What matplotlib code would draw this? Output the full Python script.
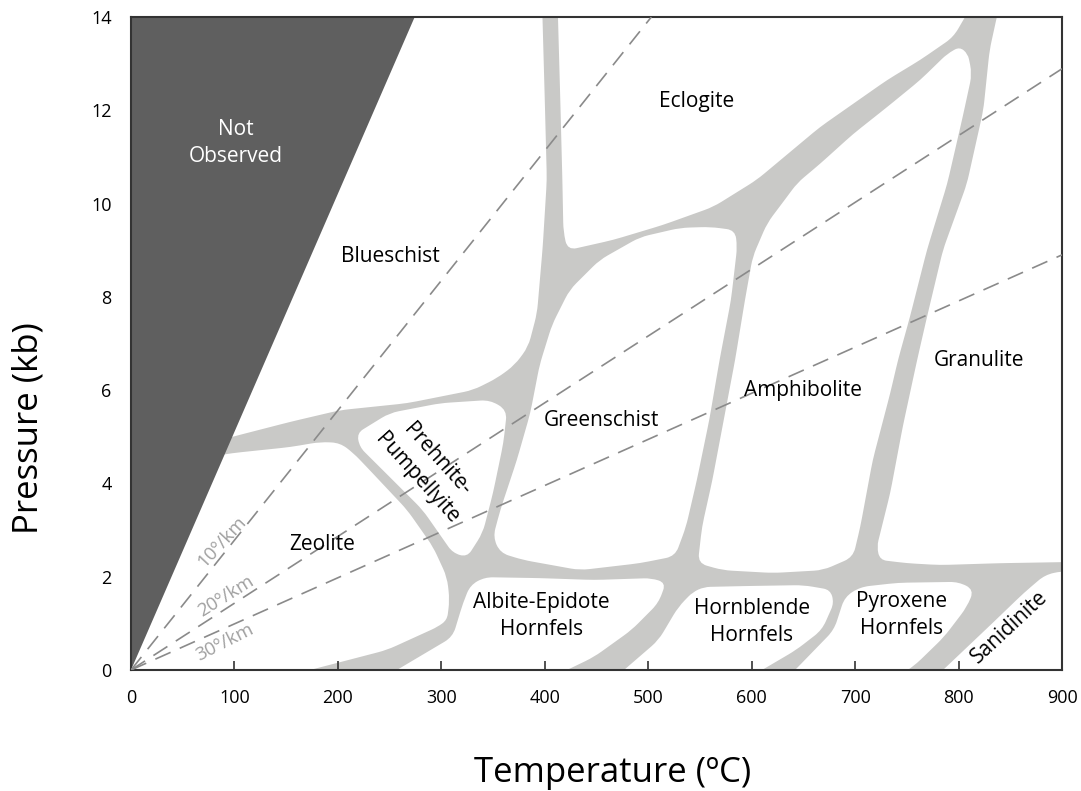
import numpy as np
import matplotlib.pyplot as plt
from matplotlib.path import Path
from matplotlib.patches import PathPatch, Polygon

plt.rcParams['font.family'] = ['Open Sans', 'DejaVu Sans']

# facies fields as (T degC, P kb) outlines; points past the limits get clipped
eclogite = [(412, 14.6), (822, 14.6), (795, 13.57), (763, 13.08), (731, 12.65), (666, 11.64),
            (605, 10.51), (563, 9.93), (514, 9.54), (466, 9.22), (422, 9.0), (418, 9.4),
            (417, 10.51), (415, 12.22)]
blueschist = [(0, 14.6), (397, 14.6), (400, 12.22), (402, 10.51), (398, 9.07), (392.5, 7.65),
              (384, 6.93), (371, 6.54), (354, 6.26), (330.6, 6.0), (267, 5.72), (202, 5.57),
              (154, 5.32), (98, 5.0), (0, 4.4)]
zeolite = [(0, 4.3), (98, 4.65), (154, 4.78), (183, 4.89), (202, 4.87), (215, 4.65), (228, 4.35),
           (267, 3.43), (292, 2.64), (305.5, 1.99), (308, 1.5), (305.5, 1.07), (296, 0.92),
           (247.5, 0.43), (173, 0.0), (105, -0.43), (0, -0.43)]
prehnite = [(218.5, 5.08), (250, 5.51), (299, 5.72), (347, 5.79), (363.5, 5.57), (360, 4.87),
            (350, 3.8), (340, 2.94), (325, 2.42), (311, 2.51), (282, 3.43), (250, 4.14), (221, 4.78)]
greenschist = [(584, 9.43), (560, 9.5), (531, 9.48), (492, 9.28), (453, 8.79), (424, 8.15),
               (407, 7.4), (395, 6.54), (386, 5.51), (373, 4.5), (357, 3.43), (350, 2.85),
               (357, 2.51), (379, 2.36), (434, 2.14), (492, 2.29), (526, 2.44), (536.5, 3.07),
               (547, 4.07), (559, 5.36), (569, 6.65), (580, 7.93), (586, 9.07)]
amphibolite = [(801, 13.36), (809, 13.21), (813, 12.78), (804, 11.86), (789, 10.42), (769.5, 9.01),
               (753, 7.57), (741.5, 6.65), (734, 5.94), (717, 4.5), (705, 3.07), (698, 2.42),
               (669, 2.14), (620.6, 2.08), (572, 2.14), (548, 2.29), (552, 3.07), (562, 4.07),
               (573, 5.36), (584, 6.65), (593.5, 7.93), (601, 8.86), (615, 9.58), (634, 10.14),
               (644, 10.44), (666, 10.85), (698, 11.49), (731, 12.07), (763, 12.65), (789, 13.21)]
granulite = [(843, 14.6), (920, 14.6), (920, 2.32), (840, 2.29), (782, 2.25), (750, 2.29),
             (724, 2.36), (721, 2.64), (734, 3.8), (746, 5.21), (760, 6.65), (769.5, 7.57),
             (785, 9.01), (808, 10.42), (824, 12.01), (830, 13.29), (837, 14.0)]
albite_epidote = [(342, 1.99), (395, 1.97), (447.6, 1.93), (503, 1.97), (517, 1.87), (510, 1.44),
                  (484, 0.86), (447.6, 0.28), (421.5, 0.0), (381, -0.43), (225, -0.43), (257, 0.0),
                  (311, 0.71), (321, 1.44), (328, 1.82)]
hornblende = [(454, -0.43), (476.6, 0.0), (510, 0.64), (529, 1.35), (543, 1.67), (554, 1.78),
              (594.5, 1.8), (650, 1.82), (676, 1.72), (679.6, 1.44), (668, 0.86), (643, 0.43),
              (610, 0.0), (577, -0.43)]
pyroxene = [(622, -0.43), (642, 0.0), (679.6, 0.86), (690, 1.57), (705, 1.78), (741.5, 1.87),
            (800, 1.89), (815, 1.72), (808, 1.35), (786, 0.71), (760, 0.15), (751, 0.0), (726, -0.43)]
sanidinite = [(764, -0.43), (785, 0.0), (833, 1.01), (863, 1.65), (883.6, 2.04), (900, 2.12),
              (920, 2.12), (920, -0.43)]
fields = [eclogite, blueschist, zeolite, prehnite, greenschist, amphibolite, granulite,
          albite_epidote, hornblende, pyroxene, sanidinite]

not_observed = [(0, 0), (286, 14.6), (0, 14.6)]

# geotherms: end points of lines from the origin
geotherm_ends = [(503, 14.0), (900, 12.89), (900, 8.9)]
geotherm_names = ['10º/km', '20º/km', '30º/km']
geotherm_label_xy = [(87.7, 2.75), (91.6, 1.59), (91, 0.59)]
geotherm_label_rot = [47, 32, 27]

labels = [('Eclogite', 547, 12.18, 0), ('Blueschist', 251, 8.86, 0), ('Greenschist', 455, 5.34, 0),
          ('Amphibolite', 650, 6.0, 0), ('Granulite', 820, 6.63, 0),
          ('Prehnite-\nPumpellyite', 286, 4.31, -48), ('Zeolite', 185, 2.68, 0),
          ('Albite-Epidote\nHornfels', 397, 1.16, 0), ('Hornblende\nHornfels', 600, 1.03, 0),
          ('Pyroxene\nHornfels', 745, 1.18, 0), ('Sanidinite', 849, 0.93, 43)]

xticks = np.arange(0, 901, 100)
yticks = np.arange(0, 15, 2)

# px per kb over px per degC, so corner radii come out round on screen
SCALE = 45.1


def rounded(pts, r=9.0):
    v = np.array(pts, float)
    s = v * [1, SCALE]
    n = len(s)
    verts, codes = [], []
    for i in range(n):
        p, c, q = s[i - 1], s[i], s[(i + 1) % n]
        d1, d2 = np.hypot(*(p - c)), np.hypot(*(q - c))
        k = min(r, d1 / 2, d2 / 2)
        verts += [c + (p - c) * k / d1, c, c + (q - c) * k / d2]
        codes += [Path.MOVETO if i == 0 else Path.LINETO, Path.CURVE3, Path.CURVE3]
    verts.append(verts[0])
    codes.append(Path.CLOSEPOLY)
    return Path(np.array(verts) / [1, SCALE], codes)


fig = plt.figure(figsize=(10.81, 7.91), dpi=100)
ax = fig.add_axes([131 / 1081, 1 - 670 / 791, 931 / 1081, 653 / 791])
ax.set_facecolor('#c9c9c7')
ax.set_xlim(0, 900)
ax.set_ylim(0, 14)

for f in fields:
    ax.add_patch(PathPatch(rounded(f), facecolor='white', edgecolor='none', zorder=1))
ax.add_patch(Polygon(not_observed, closed=True, facecolor='#5f5f5f', edgecolor='none', zorder=2))

for (t, p), name, (lx, ly), rot in zip(geotherm_ends, geotherm_names, geotherm_label_xy, geotherm_label_rot):
    ax.plot([0, t], [0, p], color='#8a8a8a', lw=1.2, dashes=(10, 6), zorder=3)
    ax.text(lx, ly, name, rotation=rot, color='#a0a0a0', fontsize=13.5,
            ha='center', va='center', rotation_mode='anchor', zorder=4)

for text, t, p, rot in labels:
    ax.text(t, p, text, rotation=rot, fontsize=15, ha='center', va='center',
            linespacing=1.4, rotation_mode='anchor', zorder=4)
ax.text(101.5, 11.3, 'Not\nObserved', color='white', fontsize=15, ha='center', va='center',
        linespacing=1.4, zorder=4)

ax.set_xticks(xticks)
ax.set_yticks(yticks)
ax.tick_params(direction='in', length=6.5, width=1.2, labelsize=13, color='#333333')
ax.tick_params(axis='x', pad=14)
ax.tick_params(axis='y', pad=14)
for s in ax.spines.values():
    s.set_linewidth(1.5)
    s.set_color('#333333')

ax.set_xlabel('Temperature (ºC)', fontsize=25)
ax.xaxis.label.set_va('baseline')
ax.xaxis.set_label_coords(0.5177, -0.1715)
ax.set_ylabel('Pressure (kb)', fontsize=25)
ax.yaxis.label.set_va('baseline')
ax.yaxis.set_label_coords(-0.0999, 0.37)

fig.savefig('out.png', dpi=100)
